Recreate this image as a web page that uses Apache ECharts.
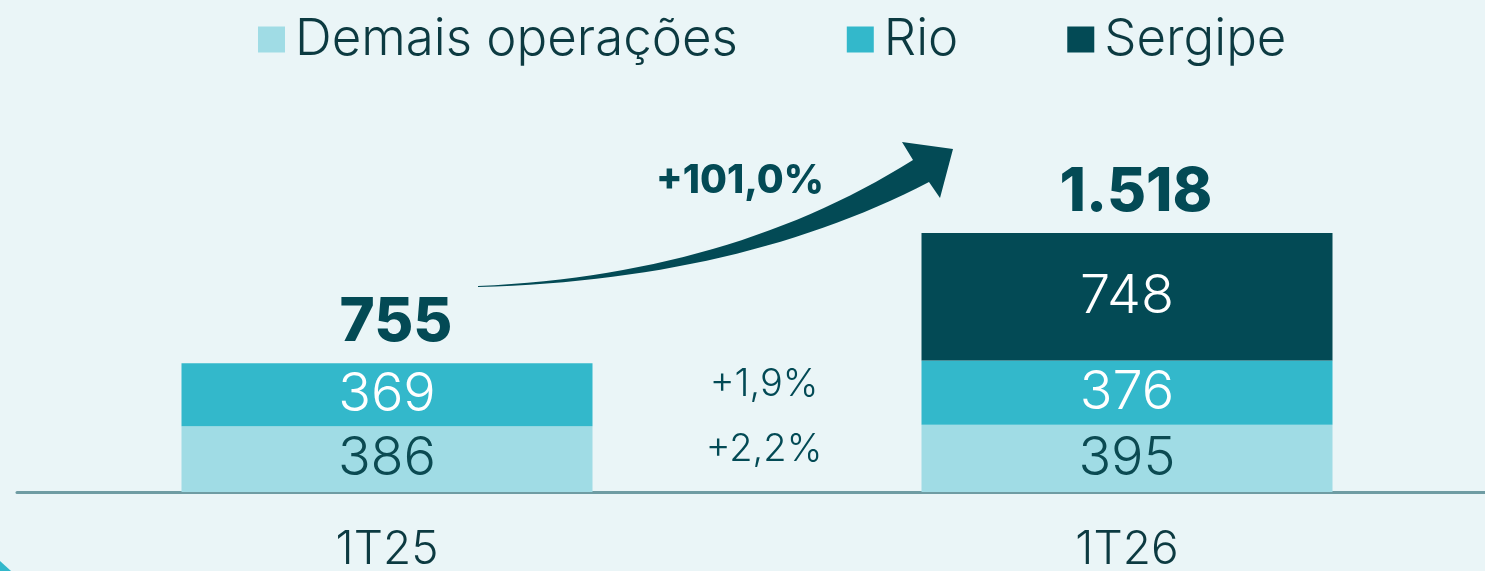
<!DOCTYPE html>
<html>
<head>
<meta charset="utf-8">
<script src="https://cdn.jsdelivr.net/npm/echarts@6/dist/echarts.min.js"></script>
<style>
  html, body { margin: 0; padding: 0; background: #eaf5f7; }
  #chart { width: 1485px; height: 571px; }
</style>
</head>
<body>
<div id="chart"></div>
<script>
// dados do gráfico
const categories = ['1T25', '1T26'];
const demais = [386, 395];
const rio = [369, 376];
const sergipe = ['-', 748];
const totals = [755, 1518];
const growthLabels = ['+2,2%', '+1,9%']; // demais, rio
const totalGrowth = '+101,0%';

const FONT = 'Inter, "Noto Sans", sans-serif';
const DARK = '#034a55';
const TEXT = '#0c3a41';

// formata número no padrão pt-BR (1.518)
const fmt = v => String(v).replace(/\B(?=(\d{3})+(?!\d))/g, '.');

// ponto médio de cada segmento (média entre as duas barras)
const segments = [demais, rio];
const growthData = segments.map((seg, i) => {
  const mids = categories.map((c, k) => {
    let base = 0;
    for (let j = 0; j < i; j++) base += segments[j][k];
    return base + seg[k] / 2;
  });
  return [0, (mids[0] + mids[1]) / 2];
});

// contorno da seta curva (curvas quadráticas amostradas)
const quad = (a, c, b, n) => {
  const pts = [];
  for (let i = 0; i <= n; i++) {
    const t = i / n, u = 1 - t;
    pts.push([u * u * a[0] + 2 * u * t * c[0] + t * t * b[0],
              u * u * a[1] + 2 * u * t * c[1] + t * t * b[1]]);
  }
  return pts;
};
const arrowPts = [].concat(
  quad([478, 286], [730, 275], [913, 160], 30),
  [[902, 142], [953, 149], [940, 198]],
  quad([929, 182], [740, 280], [478, 287], 30)
);

const chart = echarts.init(document.getElementById('chart'));

const insideLabel = color => ({
  show: true,
  position: 'inside',
  color: color,
  fontFamily: FONT,
  fontSize: 54,
  fontWeight: 300,
  formatter: p => fmt(p.value)
});

const option = {
  backgroundColor: '#eaf5f7',
  animation: false,
  legend: {
    left: 258,
    top: 14,
    padding: 0,
    icon: 'rect',
    itemWidth: 27,
    itemHeight: 26,
    itemGap: 109,
    textStyle: {
      fontFamily: FONT,
      fontSize: 51,
      fontWeight: 300,
      color: TEXT,
      padding: [0, 0, 0, 5]
    },
    data: ['Demais operações', 'Rio', 'Sergipe']
  },
  grid: {
    left: 17,
    width: 1480,
    top: 151,
    bottom: 79,
    outerBoundsMode: 'none'
  },
  xAxis: {
    type: 'category',
    data: categories,
    axisTick: { show: false },
    axisLine: { lineStyle: { color: '#6f9ca3', width: 3 } },
    axisLabel: {
      margin: 35,
      fontFamily: FONT,
      fontSize: 46,
      fontWeight: 300,
      color: TEXT
    }
  },
  yAxis: { type: 'value', min: 0, max: 2000, show: false },
  series: [
    {
      name: 'Demais operações',
      type: 'bar',
      stack: 'total',
      barWidth: 411,
      data: demais,
      itemStyle: { color: '#a0dce5' },
      label: insideLabel('#0b4a52')
    },
    {
      name: 'Rio',
      type: 'bar',
      stack: 'total',
      barWidth: 411,
      data: rio,
      itemStyle: { color: '#33b8cb' },
      label: insideLabel('#ffffff')
    },
    {
      name: 'Sergipe',
      type: 'bar',
      stack: 'total',
      barWidth: 411,
      data: sergipe,
      itemStyle: { color: DARK },
      label: insideLabel('#ffffff')
    },
    {
      name: 'Total',
      type: 'bar',
      barGap: '-100%',
      barWidth: 411,
      z: 1,
      data: totals,
      itemStyle: { color: 'rgba(0,0,0,0)' },
      label: {
        show: true,
        position: 'top',
        distance: 10,
        offset: [9, 0],
        fontFamily: FONT,
        fontSize: 60,
        fontWeight: 800,
        color: DARK,
        formatter: p => fmt(p.value)
      }
    },
    {
      name: 'Crescimento',
      type: 'custom',
      data: growthData,
      renderItem: (params, api) => {
        const y = api.value(1);
        const p0 = api.coord([0, y]);
        const p1 = api.coord([1, y]);
        return {
          type: 'text',
          x: (p0[0] + p1[0]) / 2 + 7,
          y: p0[1] - 9,
          style: {
            text: growthLabels[params.dataIndex],
            fill: DARK,
            fontFamily: FONT,
            fontSize: 38,
            fontWeight: 300,
            align: 'center',
            verticalAlign: 'middle'
          }
        };
      }
    }
  ],
  graphic: [
    {
      type: 'polygon',
      shape: { points: arrowPts },
      style: { fill: DARK }
    },
    {
      type: 'text',
      x: 740,
      y: 181,
      style: {
        text: totalGrowth,
        fill: DARK,
        fontFamily: FONT,
        fontSize: 39,
        fontWeight: 800,
        align: 'center',
        verticalAlign: 'middle'
      }
    },
    {
      type: 'polygon',
      shape: { points: [[0, 561], [11, 571], [0, 571]] },
      style: { fill: '#33b8cb' }
    }
  ]
};

chart.setOption(option);
</script>
</body>
</html>
